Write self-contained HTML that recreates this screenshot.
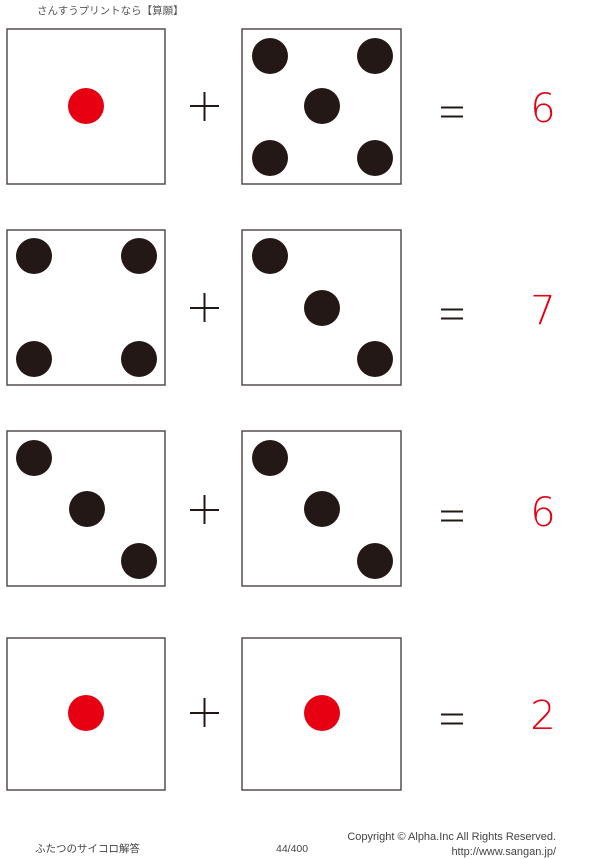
<!DOCTYPE html>
<html><head><meta charset="utf-8"><style>
html,body{margin:0;padding:0;background:#fff;}
svg{display:block;}
text{font-family:"Liberation Sans","Noto Sans CJK JP",sans-serif;}
text.d{font-family:"DejaVu Sans ExtraLight","DejaVu Sans","Liberation Sans",sans-serif;font-weight:200;}
</style></head><body>
<svg width="600" height="859" viewBox="0 0 600 859" xmlns="http://www.w3.org/2000/svg">
<text x="37" y="14" font-size="10.5" fill="#555">さんすうプリントなら【算願】</text>
<g fill="none" stroke="#4a4242" stroke-width="1.4">
<rect x="7" y="29" width="158" height="155"/><rect x="242" y="29" width="159" height="155"/>
<rect x="7" y="230" width="158" height="155"/><rect x="242" y="230" width="159" height="155"/>
<rect x="7" y="431" width="158" height="155"/><rect x="242" y="431" width="159" height="155"/>
<rect x="7" y="638" width="158" height="152"/><rect x="242" y="638" width="159" height="152"/>
</g>
<g fill="#231816">
<circle cx="270" cy="56" r="18"/><circle cx="375" cy="56" r="18"/><circle cx="322" cy="106" r="18"/><circle cx="270" cy="158" r="18"/><circle cx="375" cy="158" r="18"/>
<circle cx="34" cy="256" r="18"/><circle cx="139" cy="256" r="18"/><circle cx="34" cy="359" r="18"/><circle cx="139" cy="359" r="18"/>
<circle cx="270" cy="256" r="18"/><circle cx="322" cy="308" r="18"/><circle cx="375" cy="359" r="18"/>
<circle cx="34" cy="458" r="18"/><circle cx="87" cy="509" r="18"/><circle cx="139" cy="561" r="18"/>
<circle cx="270" cy="458" r="18"/><circle cx="322" cy="509" r="18"/><circle cx="375" cy="561" r="18"/>
</g>
<g fill="#e60012">
<circle cx="86" cy="106" r="18"/><circle cx="86" cy="713" r="18"/><circle cx="322" cy="713" r="18"/>
</g>
<g stroke="#231816" stroke-width="2">
<path d="M190 106H219M204.5 92V121"/><path d="M190 308H219M204.5 293V322"/>
<path d="M190 510H219M204.5 495V524"/><path d="M190 713H219M204.5 698V727"/>
<path d="M441 107.5H463M441 116.5H463"/><path d="M441 309.5H463M441 318.5H463"/>
<path d="M441 511.5H463M441 520.5H463"/><path d="M441 714.5H463M441 723.5H463"/>
</g>
<g fill="#e60012" font-size="40" text-anchor="middle">
<text class="d" x="543" y="122">6</text><text class="d" x="543" y="324">7</text><text class="d" x="543" y="526">6</text><text class="d" x="543" y="729">2</text>
</g>
<text x="35" y="852" font-size="10.5" fill="#444">ふたつのサイコロ解答</text>
<text x="276" y="852" font-size="10.5" fill="#444">44/400</text>
<text x="556" y="840" font-size="11" fill="#444" text-anchor="end">Copyright ©  Alpha.Inc All Rights Reserved.</text>
<text x="556" y="855" font-size="11" fill="#444" text-anchor="end">http://www.sangan.jp/</text>
</svg>
</body></html>
